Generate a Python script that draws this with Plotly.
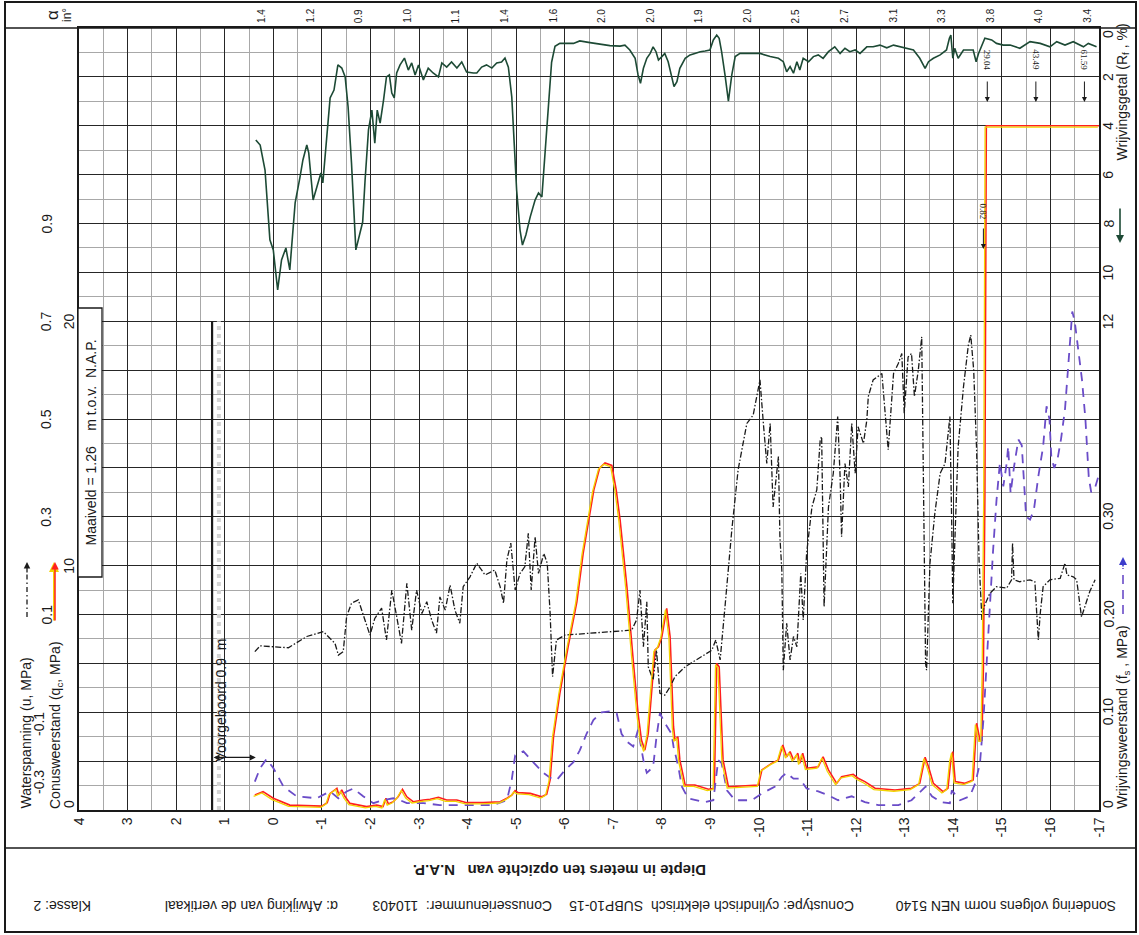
import plotly.graph_objects as go

# ---------------- data ----------------
depth_ticks = list(range(4, -18, -1))
depth_tick_text = [str(v) for v in depth_ticks]

# Wrijvingsgetal Rf (%)
rf_depth = [0.36, 0.27, 0.17, 0.07, 0.0, -0.09, -0.17, -0.26, -0.34, -0.45, -0.55, -0.61, -0.69, -0.73,
            -0.82, -0.89, -0.98, -1.02, -1.10, -1.17, -1.25, -1.33, -1.41, -1.48, -1.54, -1.61, -1.70,
            -1.77, -1.84, -1.89, -1.96, -2.03, -2.09, -2.14, -2.20, -2.27, -2.33, -2.39, -2.44, -2.49,
            -2.54, -2.61, -2.70, -2.78, -2.85, -2.92, -2.99, -3.09, -3.19, -3.29, -3.40, -3.47, -3.57,
            -3.67, -3.78, -3.88, -3.98, -4.12, -4.19, -4.29, -4.39, -4.50, -4.60, -4.70, -4.77, -4.84,
            -4.91, -4.96, -5.01, -5.08, -5.13, -5.20, -5.29, -5.39, -5.46, -5.53, -5.57, -5.63, -5.68,
            -5.73, -5.80, -5.90, -6.18, -6.31, -6.52, -6.93, -7.14, -7.24, -7.34, -7.45, -7.51, -7.56,
            -7.62, -7.69, -7.76, -7.82, -7.88, -7.93, -8.00, -8.06, -8.13, -8.20, -8.25, -8.31, -8.37,
            -8.48, -8.58, -8.68, -8.79, -8.89, -8.99, -9.06, -9.13, -9.18, -9.23, -9.30, -9.37, -9.44,
            -9.51, -9.61, -9.81, -10.02, -10.23, -10.40, -10.50, -10.57, -10.64, -10.71, -10.78, -10.84,
            -10.91, -11.02, -11.12, -11.22, -11.32, -11.43, -11.56, -11.67, -11.77, -11.87, -11.98,
            -12.08, -12.22, -12.35, -12.49, -12.63, -12.77, -12.90, -13.04, -13.18, -13.31, -13.42,
            -13.49, -13.59, -13.73, -13.86, -13.92, -13.95, -13.99, -14.03, -14.10, -14.21, -14.41,
            -14.47, -14.52, -14.59, -14.65, -14.79, -14.89, -15.03, -15.17, -15.37, -15.58, -15.79,
            -15.99, -16.13, -16.30, -16.47, -16.68, -16.78, -16.95]
rf_value = [4.58, 4.79, 5.81, 8.67, 9.08, 10.72, 9.49, 9.0, 9.9, 7.16, 6.10, 5.40, 4.79, 5.11,
            7.04, 6.51, 5.93, 6.34, 4.46, 2.86, 2.54, 1.51, 1.64, 2.0, 3.23, 5.52, 9.08,
            8.55, 7.94, 6.22, 4.17, 3.36, 4.71, 3.36, 3.89, 2.95, 2.0, 1.92, 2.66, 2.86,
            1.84, 1.51, 1.23, 1.72, 1.43, 1.92, 1.51, 2.13, 1.64, 1.84, 2.0, 1.43, 1.60,
            1.39, 1.64, 1.39, 1.80, 1.84, 1.84, 1.60, 1.51, 1.64, 1.43, 1.39, 1.23, 1.60,
            2.82, 4.71, 6.63, 8.27, 8.88, 8.47, 7.73, 7.04, 6.75, 6.91, 5.81, 4.17, 2.60,
            1.40, 0.75, 0.63, 0.63, 0.53, 0.60, 0.72, 0.74, 0.70, 0.90, 1.24, 1.92, 2.26,
            1.65, 1.24, 1.04, 0.77, 0.97, 1.31, 1.17, 1.04, 1.38, 2.06, 2.40, 2.20, 1.65,
            1.24, 1.10, 1.04, 0.97, 0.94, 0.90, 0.49, 0.29, 0.42, 0.97, 1.92, 2.99, 1.92,
            1.17, 1.04, 1.04, 1.04, 1.17, 1.24, 1.38, 1.79, 1.58, 1.85, 1.38, 1.72,
            1.24, 1.38, 1.17, 1.10, 1.24, 0.97, 0.77, 1.04, 0.83, 0.97, 0.90,
            1.04, 0.77, 0.77, 0.70, 0.81, 0.70, 0.77, 0.83, 0.90, 1.24, 1.65,
            1.38, 1.24, 1.10, 0.90, 0.42, 0.29, 1.24, 0.83, 1.24, 0.90, 0.90,
            1.38, 1.04, 0.70, 0.42, 0.49, 0.63, 0.70, 0.70, 0.83, 0.56, 0.63,
            0.77, 0.56, 0.70, 0.56, 0.77, 0.63, 0.77]

# Conusweerstand qc (MPa)
qc_depth = [0.38, 0.21, 0.0, -0.34, -1.0, -1.11, -1.17, -1.24, -1.31, -1.35, -1.41, -1.48, -1.58,
            -1.92, -2.13, -2.26, -2.32, -2.37, -2.47, -2.57, -2.66, -2.75, -2.88, -3.09, -3.23, -3.40,
            -3.57, -3.78, -3.98, -4.32, -4.67, -4.81, -4.91, -4.98, -5.04, -5.29, -5.53, -5.63, -5.70,
            -5.77, -5.90, -6.07, -6.25, -6.38, -6.49, -6.60, -6.72, -6.83, -6.97, -7.06, -7.14, -7.28,
            -7.41, -7.51, -7.58, -7.65, -7.72, -7.79, -7.86, -7.93, -8.00, -8.10, -8.17, -8.24, -8.27,
            -8.33, -8.37, -8.48, -8.68, -8.96, -9.08, -9.13, -9.18, -9.26, -9.37, -9.99, -10.06, -10.26,
            -10.40, -10.49, -10.57, -10.64, -10.71, -10.80, -10.84, -10.90, -10.98, -11.22, -11.32,
            -11.43, -11.60, -11.70, -11.94, -12.04, -12.18, -12.39, -12.80, -13.14, -13.31, -13.42,
            -13.49, -13.59, -13.79, -13.89, -13.95, -13.99, -14.04, -14.24, -14.41, -14.48, -14.55,
            -14.59, -14.62, -14.65, -14.68, -17.0]
qc_value = [0.61, 0.75, 0.48, 0.20, 0.16, 0.30, 0.68, 0.79, 0.89, 0.61, 0.82, 0.54, 0.27,
            0.14, 0.20, 0.14, 0.48, 0.25, 0.34, 0.54, 0.85, 0.54, 0.34, 0.41, 0.44, 0.52,
            0.41, 0.41, 0.30, 0.30, 0.34, 0.48, 0.61, 0.79, 0.71, 0.68, 0.54, 0.65, 1.23,
            3.0, 4.77, 6.68, 8.52, 10.5, 11.73, 13.1, 14.0, 14.2, 14.1, 13.1, 11.87, 9.14,
            6.14, 3.96, 2.86, 2.45, 3.14, 4.77, 6.55, 6.68, 7.09, 8.25, 7.09, 3.41, 2.86,
            3.0, 2.05, 1.02, 1.02, 0.85, 0.89, 6.0, 5.86, 2.05, 0.95, 1.02, 1.64, 1.91,
            2.05, 2.66, 2.18, 2.39, 2.05, 2.32, 1.91, 2.32, 1.71, 1.77, 2.18,
            1.64, 1.09, 1.36, 1.46, 1.30, 1.16, 0.89, 0.82, 0.89, 1.09, 2.16,
            1.77, 1.09, 0.75, 0.89, 2.05, 2.39, 1.16, 1.09, 1.23, 3.55, 2.86,
            2.86, 5.86, 12.7, 28.0, 28.0]

# Wrijvingsweerstand fs (MPa)
fs_depth = [0.38, 0.27, 0.14, 0.0, -0.21, -0.48, -0.89, -1.17, -1.34, -1.51, -1.65, -1.85, -2.06,
            -2.26, -2.47, -2.61, -2.75, -3.09, -3.43, -3.78, -4.12, -4.53, -4.81, -4.91, -4.98, -5.15,
            -5.35, -5.56, -5.73, -5.84, -6.01, -6.18, -6.31, -6.45, -6.59, -6.76, -6.93, -7.07, -7.17,
            -7.28, -7.41, -7.51, -7.62, -7.69, -7.82, -7.89, -7.96, -8.06, -8.20, -8.24, -8.34, -8.41,
            -8.54, -8.89, -9.06, -9.16, -9.23, -9.34, -9.51, -9.85, -10.06, -10.33, -10.47, -10.57,
            -10.71, -10.84, -10.98, -11.22, -11.43, -11.63, -11.91, -12.18, -12.46, -12.87, -13.14,
            -13.35, -13.43, -13.56, -13.76, -13.93, -13.97, -14.14, -14.34, -14.45, -14.55, -14.62,
            -14.68, -14.75, -14.82, -14.89, -14.96, -15.03, -15.10, -15.13, -15.18, -15.25, -15.34,
            -15.41, -15.50, -15.58, -15.66, -15.75, -15.85, -15.92, -15.98, -16.02, -16.08, -16.15,
            -16.22, -16.30, -16.37, -16.45, -16.50, -16.58, -16.65, -16.72, -16.79, -16.84, -16.92,
            -16.98]
fs_value = [0.029, 0.043, 0.052, 0.043, 0.024, 0.014, 0.012, 0.019, 0.012, 0.019, 0.022, 0.014, 0.007,
            0.010, 0.012, 0.010, 0.007, 0.007, 0.005, 0.005, 0.005, 0.005, 0.010, 0.031, 0.056, 0.060,
            0.049, 0.038, 0.032, 0.031, 0.041, 0.049, 0.061, 0.078, 0.092, 0.100, 0.101, 0.099, 0.078,
            0.070, 0.065, 0.082, 0.051, 0.038, 0.044, 0.075, 0.099, 0.089, 0.078, 0.065, 0.044, 0.024,
            0.012, 0.008, 0.010, 0.051, 0.048, 0.020, 0.010, 0.010, 0.017, 0.024, 0.034, 0.038,
            0.032, 0.032, 0.022, 0.019, 0.015, 0.010, 0.014, 0.008, 0.005, 0.005, 0.010,
            0.020, 0.024, 0.014, 0.008, 0.007, 0.020, 0.010, 0.014, 0.027, 0.048, 0.092,
            0.147, 0.201, 0.266, 0.317, 0.355, 0.331, 0.355, 0.372, 0.324, 0.351, 0.379,
            0.373, 0.300, 0.297, 0.307, 0.341, 0.372, 0.413, 0.40, 0.36, 0.35, 0.36,
            0.38, 0.41, 0.46, 0.51, 0.50, 0.47, 0.44, 0.40, 0.34, 0.325, 0.33,
            0.34]

# Waterspanning u (MPa)
u_depth = [0.38, 0.27, 0.0, -0.31, -0.69, -1.03, -1.17, -1.27, -1.34, -1.44, -1.51, -1.61, -1.75,
           -1.85, -1.99, -2.09, -2.23, -2.33, -2.44, -2.54, -2.64, -2.75, -2.85, -2.95, -3.06, -3.16,
           -3.26, -3.36, -3.43, -3.54, -3.64, -3.74, -3.84, -3.91, -4.05, -4.19, -4.36, -4.56, -4.67,
           -4.74, -4.81, -4.89, -4.98, -5.08, -5.18, -5.25, -5.31, -5.39, -5.46, -5.57, -5.64, -5.70,
           -5.75, -5.83, -6.01, -7.38, -7.48, -7.55, -7.62, -7.69, -7.72, -7.82, -7.89, -7.96, -8.06,
           -8.17, -8.27, -8.48, -8.75, -9.03, -9.11, -9.20, -9.30, -9.44, -9.57, -9.75, -9.88, -10.02,
           -10.09, -10.16, -10.23, -10.29, -10.40, -10.43, -10.47, -10.50, -10.57, -10.64, -10.71,
           -10.78, -10.86, -10.91, -10.98, -11.09, -11.19, -11.26, -11.29, -11.34, -11.43, -11.53,
           -11.62, -11.67, -11.70, -11.77, -11.84, -11.91, -11.98, -12.04, -12.15, -12.22, -12.25,
           -12.35, -12.53, -12.66, -12.77, -12.87, -12.94, -12.99, -13.07, -13.14, -13.20, -13.28,
           -13.35, -13.38, -13.43, -13.45, -13.52, -13.62, -13.73, -13.83, -13.93, -13.97, -13.99,
           -14.04, -14.10, -14.21, -14.31, -14.36, -14.42, -14.48, -14.53, -14.59, -14.63, -14.75,
           -14.89, -15.10, -15.20, -15.22, -15.25, -15.37, -15.58, -15.68, -15.75, -15.79, -15.85,
           -15.99, -16.20, -16.30, -16.34, -16.47, -16.54, -16.64, -16.71, -16.81, -16.92]
u_value = [0.024, 0.036, 0.034, 0.032, 0.055, 0.065, 0.051, 0.041, 0.017, 0.024, 0.096, 0.123, 0.130,
           0.099, 0.058, 0.092, 0.113, 0.048, 0.150, 0.096, 0.041, 0.164, 0.068, 0.150, 0.102, 0.126,
           0.089, 0.062, 0.136, 0.109, 0.160, 0.109, 0.082, 0.157, 0.177, 0.205, 0.181, 0.191, 0.157,
           0.123, 0.212, 0.246, 0.150, 0.184, 0.198, 0.266, 0.150, 0.259, 0.184, 0.225, 0.205, 0.102,
           -0.027, 0.048, 0.058, 0.068, 0.089, 0.150, 0.034, 0.126, -0.007, -0.034, 0.027, -0.061, -0.065,
           -0.048, -0.027, -0.007, 0.010, 0.027, 0.048, 0.007, 0.116, 0.273, 0.396, 0.491, 0.508, 0.580,
           0.491, 0.409, 0.491, 0.320, 0.423, 0.259, 0.191, -0.014, 0.082, 0.007, 0.055,
           0.034, 0.184, 0.089, 0.225, 0.320, 0.355, 0.457, 0.464, 0.116, 0.320, 0.389,
           0.505, 0.382, 0.259, 0.409, 0.361, 0.491, 0.389, 0.484, 0.450, 0.498, 0.546,
           0.580, 0.593, 0.437, 0.593, 0.614, 0.634, 0.512, 0.627, 0.634, 0.546, 0.600,
           0.668, 0.396, 0.000, -0.014, 0.205, 0.307, 0.389, 0.409, 0.505, 0.273, 0.123,
           0.273, 0.443, 0.566, 0.651, 0.672, 0.600, 0.437, 0.212, 0.089, 0.115, 0.143,
           0.157, 0.154, 0.171, 0.246, 0.171, 0.167, 0.171, 0.167, 0.048, 0.102, 0.157,
           0.171, 0.174, 0.205, 0.181, 0.177, 0.171, 0.095, 0.116, 0.147, 0.171]

# helling alpha (graden) per meter
alpha_depth = [0, -1, -2, -3, -4, -5, -6, -7, -8, -9, -10, -11, -12, -13, -14, -15, -16, -17]
alpha_text = ['1.4', '1.2', '0.9', '1.0', '1.1', '1.4', '1.6', '2.0', '2.0', '1.9', '2.0', '2.5',
              '2.7', '3.1', '3.3', '3.8', '4.0', '3.4']

u_ticks = [0.1, 0.3, 0.5, 0.7, 0.9]
qc_ticks = [0, 10, 20]
rf_ticks = [0, 2, 4, 6, 8, 10, 12]
fs_ticks = [0, 0.1, 0.2, 0.3]
fs_tick_text = ['0', '0.10', '0.20', '0.30']

maaiveld = 1.26
voorgeboord = 0.9
offscale_depth = [-14.70, -15.70, -16.70]
offscale_text = ['29.04', '43.49', '61.59']
fs_off_depth = -14.62
fs_off_text = '0.82'

# ---------------- layout helpers ----------------
W, H = 1139, 935
L, R, T, B = 79, 1099, 28, 810
PW, PH = R - L, B - T


def px(x):
    return (x - L) / PW


def py(y):
    return (B - y) / PH


FONT = 'Liberation Sans, Arial, sans-serif'
INK = '#1a1a1a'
RED = '#ff1f1f'
YEL = '#f2d400'
GREEN = '#1d4a35'
PURPLE = '#6a4cc8'

fig = go.Figure()

fig.add_trace(go.Scatter(x=fs_depth, y=fs_value, yaxis='y2', mode='lines',
                         line=dict(color=PURPLE, width=1.8, dash='9px,7px'), hoverinfo='skip'))
fig.add_trace(go.Scatter(x=u_depth, y=u_value, yaxis='y3', mode='lines',
                         line=dict(color=INK, width=1.3, dash='6px,2px,1.5px,2px'), hoverinfo='skip'))
fig.add_trace(go.Scatter(x=rf_depth, y=rf_value, yaxis='y4', mode='lines',
                         line=dict(color=GREEN, width=1.6), hoverinfo='skip'))
fig.add_trace(go.Scatter(x=qc_depth, y=qc_value, xaxis='x2', yaxis='y5', mode='lines',
                         line=dict(color=YEL, width=1.3), hoverinfo='skip'))
fig.add_trace(go.Scatter(x=qc_depth, y=qc_value, mode='lines',
                         line=dict(color=RED, width=1.6), hoverinfo='skip'))

shift_x = 1.2 / (PW / 21.0)
shift_y = 1.3 / (PH / 32.0)

fig.update_layout(
    width=W, height=H,
    margin=dict(l=L, r=W - R, t=T, b=H - B, pad=0),
    paper_bgcolor='white', plot_bgcolor='white',
    showlegend=False,
    font=dict(family=FONT, color=INK, size=14),
    xaxis=dict(range=[4, -17], tickmode='array', tickvals=depth_ticks, ticktext=depth_tick_text,
               tickangle=-90, tickfont=dict(size=14, color=INK), ticks='',
               showgrid=True, gridcolor='#262626', gridwidth=1.4,
               minor=dict(dtick=0.5, tick0=0, showgrid=True, gridcolor='#a8a8a8', gridwidth=0.8),
               zeroline=False, showline=True, mirror=True, linecolor=INK, linewidth=1.6),
    xaxis2=dict(range=[4 - shift_x, -17 - shift_x], overlaying='x', visible=False),
    yaxis=dict(range=[0, 32], tickmode='linear', tick0=0, dtick=2, showticklabels=False, ticks='',
               showgrid=True, gridcolor='#262626', gridwidth=1.4,
               minor=dict(dtick=1, tick0=0, showgrid=True, gridcolor='#a8a8a8', gridwidth=0.8),
               zeroline=False, showline=True, mirror=True, linecolor=INK, linewidth=1.6),
    yaxis2=dict(range=[0, 0.8], overlaying='y', visible=False),
    yaxis3=dict(range=[-0.3, 1.3], overlaying='y', visible=False),
    yaxis4=dict(range=[32, 0], overlaying='y', visible=False),
    yaxis5=dict(range=[shift_y, 32 + shift_y], overlaying='y', visible=False),
)

ann = []
shapes = []

# outer frame & separators
shapes.append(dict(type='rect', xref='paper', yref='paper', x0=px(5), x1=px(1136), y0=py(932), y1=py(2),
                   line=dict(color=INK, width=2)))
shapes.append(dict(type='line', xref='paper', yref='paper', x0=px(5), x1=px(1136), y0=1, y1=1,
                   line=dict(color=INK, width=1.6)))
shapes.append(dict(type='line', xref='paper', yref='paper', x0=px(5), x1=px(1136), y0=py(848), y1=py(848),
                   line=dict(color=INK, width=1.6)))

# alpha header
for d, t in zip(alpha_depth, alpha_text):
    ann.append(dict(x=d + 0.23, y=py(16), xref='x', yref='paper', text=t, showarrow=False,
                    textangle=-90, font=dict(size=10)))
ann.append(dict(x=px(53), y=py(15), xref='paper', yref='paper', showarrow=False, textangle=-90,
                text='α', font=dict(size=17)))
ann.append(dict(x=px(67), y=py(15), xref='paper', yref='paper', showarrow=False, textangle=-90,
                text='in°', font=dict(size=12)))

# left column: u and qc scales
for v in u_ticks:
    ann.append(dict(x=px(46), y=v, xref='paper', yref='y3', text=f'{v:.1f}', showarrow=False,
                    textangle=-90, font=dict(size=14)))
ann.append(dict(x=px(39), y=py(782), xref='paper', yref='paper', text='-0.3', showarrow=False,
                textangle=-90, font=dict(size=14)))
ann.append(dict(x=px(39), y=py(724), xref='paper', yref='paper', text='-0.1', showarrow=False,
                textangle=-90, font=dict(size=14)))
ann.append(dict(x=px(25), y=py(811), xref='paper', yref='paper', text='Waterspanning (u, MPa)',
                showarrow=False, textangle=-90, yanchor='bottom', font=dict(size=14)))
ann.append(dict(x=px(56), y=py(811), xref='paper', yref='paper',
                text='Conusweerstand (q<sub>c</sub>, MPa)',
                showarrow=False, textangle=-90, yanchor='bottom', font=dict(size=14)))
for v in qc_ticks:
    ann.append(dict(x=px(69), y=v, xref='paper', yref='y', text=str(v), showarrow=False,
                    textangle=-90, yanchor='bottom' if v == 0 else 'middle', font=dict(size=14)))
# legend arrows (left)
shapes.append(dict(type='line', xref='paper', yref='paper', x0=px(27), x1=px(27), y0=py(617), y1=py(572),
                   line=dict(color=INK, width=1.3, dash='5px,3px,1.5px,3px')))
ann.append(dict(x=px(27), y=py(562), xref='paper', yref='paper', text='', showarrow=True,
                ax=0, ay=12, arrowhead=2, arrowsize=1, arrowwidth=1.3, arrowcolor=INK))
ann.append(dict(x=px(54), y=py(562), xref='paper', yref='paper', text='', showarrow=True,
                ax=0, ay=60, arrowhead=2, arrowsize=1, arrowwidth=2.0, arrowcolor=YEL))
ann.append(dict(x=px(55), y=py(562), xref='paper', yref='paper', text='', showarrow=True,
                ax=0, ay=60, arrowhead=2, arrowsize=1, arrowwidth=1.5, arrowcolor=RED))

# maaiveld & voorgeboord
shapes.append(dict(type='line', xref='x', yref='y', x0=maaiveld - 0.14, x1=maaiveld - 0.14, y0=0, y1=20,
                   line=dict(color='#d4d4d4', width=4, dash='dot')))
shapes.append(dict(type='line', xref='x', yref='y', x0=maaiveld, x1=maaiveld, y0=0, y1=20,
                   line=dict(color=INK, width=2.2)))
shapes.append(dict(type='rect', xref='paper', yref='paper', x0=px(78), x1=px(102), y0=py(577), y1=py(308),
                   fillcolor='white', line=dict(color=INK, width=1.3)))
ann.append(dict(x=px(90.5), y=py(443), xref='paper', yref='paper',
                text=f'Maaiveld = {maaiveld:.2f}' + '\u00a0\u00a0\u00a0\u00a0m t.o.v.\u00a0\u00a0N.A.P.',
                showarrow=False, textangle=-90, font=dict(size=14)))
ann.append(dict(x=maaiveld - voorgeboord, y=2.15, ax=maaiveld, ay=2.15, xref='x', yref='y',
                axref='x', ayref='y', text='', showarrow=True, arrowside='end+start',
                arrowhead=2, startarrowhead=2, arrowsize=1, startarrowsize=1, arrowwidth=1.2, arrowcolor=INK))
ann.append(dict(x=px(220), y=py(764), xref='paper', yref='paper', yanchor='bottom',
                text=f'Voorgeboord {voorgeboord}\u00a0\u00a0m', showarrow=False, textangle=-90,
                font=dict(size=14)))

# right column: Rf and fs scales
for v in rf_ticks:
    ann.append(dict(x=px(1108), y=v, xref='paper', yref='y4', text=str(v), showarrow=False,
                    textangle=-90, yanchor='top' if v == 0 else 'middle', font=dict(size=14)))
ann.append(dict(x=px(1123), y=py(22), xref='paper', yref='paper', yanchor='top',
                text='Wrijvingsgetal (R<sub>f</sub> , %)', showarrow=False, textangle=-90,
                font=dict(size=14)))
ann.append(dict(x=px(1120), y=py(243), xref='paper', yref='paper', text='', showarrow=True,
                ax=0, ay=-36, arrowhead=2, arrowsize=1, arrowwidth=1.6, arrowcolor=GREEN))
for v, t in zip(fs_ticks, fs_tick_text):
    ann.append(dict(x=px(1108), y=v, xref='paper', yref='y2', text=t, showarrow=False,
                    textangle=-90, yanchor='bottom' if v == 0 else 'middle', font=dict(size=14)))
ann.append(dict(x=px(1123), y=py(811), xref='paper', yref='paper', yanchor='bottom',
                text='Wrijvingsweerstand (f<sub>s</sub> , MPa)', showarrow=False, textangle=-90,
                font=dict(size=14)))
shapes.append(dict(type='line', xref='paper', yref='paper', x0=px(1123), x1=px(1123), y0=py(614), y1=py(568),
                   line=dict(color=PURPLE, width=1.6, dash='9px,6px')))
ann.append(dict(x=px(1123), y=py(557), xref='paper', yref='paper', text='', showarrow=True,
                ax=0, ay=11, arrowhead=2, arrowsize=1, arrowwidth=1.6, arrowcolor='#3d3dcc'))

# off-scale markers
for d, t in zip(offscale_depth, offscale_text):
    ann.append(dict(x=d, y=py(60), xref='x', yref='paper', text=t, showarrow=False, textangle=90,
                    font=dict(size=9, family='Liberation Serif, serif')))
    ann.append(dict(x=d, y=py(102), xref='x', yref='paper', text='', showarrow=True, ax=0, ay=-22,
                    arrowhead=2, arrowsize=1, arrowwidth=1, arrowcolor=INK))
ann.append(dict(x=fs_off_depth, y=py(212), xref='x', yref='paper', text=fs_off_text, showarrow=False,
                textangle=90, font=dict(size=9, family='Liberation Serif, serif')))
ann.append(dict(x=fs_off_depth, y=py(249), xref='x', yref='paper', text='', showarrow=True, ax=0, ay=-22,
                arrowhead=2, arrowsize=1, arrowwidth=1, arrowcolor=INK))

# bottom texts (upside down)
ann.append(dict(x=px(560), y=py(871), xref='paper', yref='paper', showarrow=False, textangle=180,
                text='<b>Diepte in meters ten opzichte van\u00a0\u00a0 N.A.P.</b>', font=dict(size=15)))
footer = [(1006, 'Sondering volgens norm NEN 5140'),
          (712, 'Conustype: cylindrisch elektrisch\u00a0\u00a0SUBP10-15'),
          (462, 'Conusserienummer:\u00a0\u00a0110403'),
          (252, 'α: Afwijking van de vertikaal'),
          (62, 'Klasse: 2')]
for xc, t in footer:
    ann.append(dict(x=px(xc), y=py(906), xref='paper', yref='paper', showarrow=False, textangle=180,
                    text=t, font=dict(size=14)))

for a in ann:
    a.setdefault('xanchor', 'center')
    a.setdefault('yanchor', 'middle')

fig.update_layout(annotations=ann, shapes=shapes)
fig.write_html('out.html')
